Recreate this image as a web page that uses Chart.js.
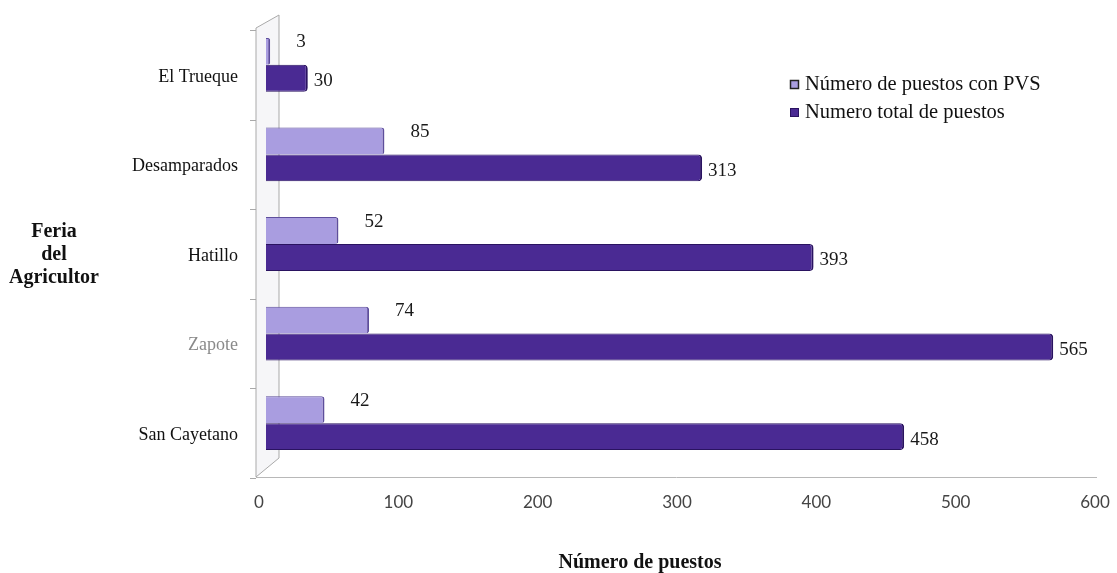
<!DOCTYPE html>
<html>
<head>
<meta charset="utf-8">
<title>Puestos por feria del agricultor</title>
<script src="https://cdn.jsdelivr.net/npm/chart.js@4"></script>
<style>
  body { margin: 0; background: #fff; }
  canvas { display: block; }
</style>
</head>
<body>
<canvas id="grafico" width="1117" height="573"></canvas>
<script>
// datos de las ferias (de arriba hacia abajo)
const ferias = ['El Trueque', 'Desamparados', 'Hatillo', 'Zapote', 'San Cayetano'];
const puestosPVS = [3, 85, 52, 74, 42];
const puestosTotal = [30, 313, 393, 565, 458];
const nombresSeries = ['Número de puestos con PVS', 'Numero total de puestos'];
const tituloX = 'Número de puestos';
const tituloY = ['Feria', 'del', 'Agricultor'];
const ejeMin = 0, ejeMax = 600, ejePaso = 100;

const SERIF = '"Liberation Serif", "DejaVu Serif", serif';

// pared lateral y piso (efecto 3D)
const paredPiso = {
  id: 'paredPiso',
  beforeDatasetsDraw(chart) {
    const { ctx, chartArea: a } = chart;
    const fx = a.left - 10, bx = a.left + 13;
    ctx.save();
    ctx.fillStyle = '#f6f6f8';
    ctx.strokeStyle = '#a9a9a9';
    ctx.lineWidth = 1;
    ctx.beginPath();
    ctx.moveTo(fx, a.top + 8);
    ctx.lineTo(bx, a.top - 5);
    ctx.lineTo(bx, a.bottom - 10);
    ctx.lineTo(fx, a.bottom + 9);
    ctx.closePath();
    ctx.fill();
    ctx.stroke();
    // marcas entre categorías
    const paso = (a.bottom - a.top) / ferias.length;
    for (let i = 0; i <= ferias.length; i++) {
      const y = Math.round(a.top + 10 + i * paso) + 0.5;
      ctx.beginPath();
      ctx.moveTo(fx - 6, y);
      ctx.lineTo(fx, y);
      ctx.stroke();
    }
    // piso
    ctx.strokeStyle = '#b8b8b8';
    ctx.beginPath();
    ctx.moveTo(fx, a.bottom + 9.5);
    ctx.lineTo(a.right - 5, a.bottom + 9.5);
    ctx.stroke();
    ctx.restore();
  }
};

// etiquetas de valor
const etiquetas = {
  id: 'etiquetas',
  afterDatasetsDraw(chart) {
    const { ctx } = chart;
    ctx.save();
    ctx.fillStyle = '#1a1a1a';
    ctx.font = '19px ' + SERIF;
    ctx.textAlign = 'left';
    ctx.textBaseline = 'middle';
    chart.data.datasets.forEach((ds, d) => {
      chart.getDatasetMeta(d).data.forEach((bar, i) => {
        if (d === 0) {
          ctx.fillText(ds.data[i], bar.x + 26, bar.y - 9);
        } else {
          ctx.fillText(ds.data[i], bar.x + 6, bar.y + 3);
        }
      });
    });
    ctx.restore();
  }
};

// leyenda y títulos de los ejes
const textos = {
  id: 'textos',
  afterDraw(chart) {
    const { ctx } = chart;
    ctx.save();
    ctx.fillStyle = '#111';
    ctx.textBaseline = 'middle';

    // leyenda
    ctx.font = '20.5px ' + SERIF;
    ctx.textAlign = 'left';
    const ds = chart.data.datasets;
    nombresSeries.forEach((n, i) => {
      const y = 85 + i * 28;
      ctx.fillStyle = ds[i].backgroundColor;
      ctx.fillRect(790, y - 5, 9, 9);
      ctx.strokeStyle = i === 0 ? '#222' : ds[i].borderColor;
      ctx.lineWidth = i === 0 ? 1.5 : 1;
      ctx.strokeRect(790.5, y - 4.5, 8, 8);
      ctx.fillStyle = '#111';
      ctx.fillText(n, 805, y);
    });

    // título eje X
    ctx.font = 'bold 20px ' + SERIF;
    ctx.textAlign = 'center';
    ctx.fillText(tituloX, 640, 563);

    // título eje Y
    ctx.font = 'bold 20px ' + SERIF;
    tituloY.forEach((t, i) => ctx.fillText(t, 54, 232 + i * 23));
    ctx.restore();
  }
};

const ctx = document.querySelector('#grafico').getContext('2d');
const grafico = new Chart(ctx, {
  type: 'bar',
  data: {
    labels: ferias,
    datasets: [
      {
        label: nombresSeries[0],
        data: puestosPVS,
        backgroundColor: '#a99de0',
        borderColor: '#5e4e9c',
        borderWidth: { top: 1, right: 2, bottom: 0, left: 0 },
        borderRadius: 3,
        categoryPercentage: 0.6,
        barPercentage: 1.0
      },
      {
        label: nombresSeries[1],
        data: puestosTotal,
        backgroundColor: '#4a2a93',
        borderColor: '#2a1360',
        borderWidth: { top: 1, right: 2, bottom: 1, left: 0 },
        borderRadius: 4,
        categoryPercentage: 0.6,
        barPercentage: 1.0
      }
    ]
  },
  options: {
    indexAxis: 'y',
    responsive: false,
    animation: false,
    layout: { padding: { top: 20, right: 15, left: 0, bottom: 0 } },
    scales: {
      x: {
        min: ejeMin,
        max: ejeMax,
        afterFit: s => { s.height = 105; s.paddingLeft = 0; s.paddingRight = 0; },
        grid: { display: false, drawTicks: false },
        border: { display: false },
        ticks: {
          stepSize: ejePaso,
          padding: 24,
          labelOffset: -7,
          color: '#444',
          font: { family: 'Lato, "Open Sans", sans-serif', size: 17 }
        }
      },
      y: {
        afterFit: s => { s.width = 266; s.paddingTop = 0; s.paddingBottom = 0; },
        grid: { display: false, drawTicks: false },
        border: { display: false },
        ticks: {
          padding: 28,
          labelOffset: 12,
          color: c => (c.index === 3 ? '#8a8a8a' : '#111'),
          font: { family: SERIF, size: 18 }
        }
      }
    },
    plugins: {
      legend: { display: false },
      tooltip: { enabled: false }
    }
  },
  plugins: [paredPiso, etiquetas, textos]
});
</script>
</body>
</html>
